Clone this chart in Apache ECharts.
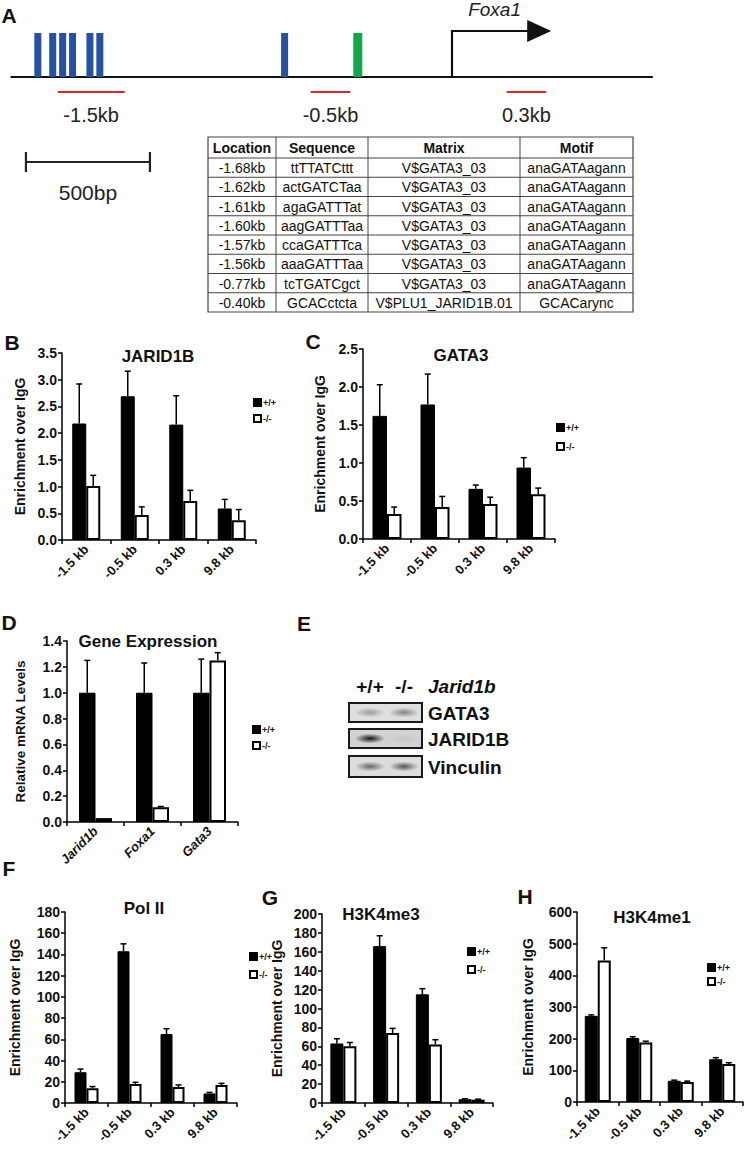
<!DOCTYPE html>
<html><head><meta charset="utf-8">
<script src="https://cdn.jsdelivr.net/npm/echarts@6/dist/echarts.min.js"></script>
<style>html,body{margin:0;padding:0;background:#fff}#c{width:745px;height:1149px}</style>
</head><body><div id="c"></div>
<script>
// ================= DATA =================
// Panel A schematic (positions in kb relative to the Foxa1 TSS)
const geneName = 'Foxa1';
const promoterSpanKb = [-1.78, 0.81];
const gata3SitesKb = [-1.67, -1.61, -1.57, -1.53, -1.46, -1.42, -0.675];
const jarid1bSitesKb = [-0.38];
const tssKb = 0;
const arrowEndKb = 0.40;
const ampliconStartKb = [-1.59, -0.57, 0.22];
const ampliconEndKb = [-1.32, -0.41, 0.38];
const ampliconLabels = ['-1.5kb', '-0.5kb', '0.3kb'];
const scaleBarKb = [-1.718, -1.218];
const scaleBarLabel = '500bp';

// Panel A table
const tableHeader = ['Location', 'Sequence', 'Matrix', 'Motif'];
const tableLocation = ['-1.68kb', '-1.62kb', '-1.61kb', '-1.60kb', '-1.57kb', '-1.56kb', '-0.77kb', '-0.40kb'];
const tableSequence = ['ttTTATCttt', 'actGATCTaa', 'agaGATTTat', 'aagGATTTaa', 'ccaGATTTca', 'aaaGATTTaa', 'tcTGATCgct', 'GCACctcta'];
const tableMatrix = ['V$GATA3_03', 'V$GATA3_03', 'V$GATA3_03', 'V$GATA3_03', 'V$GATA3_03', 'V$GATA3_03', 'V$GATA3_03', 'V$PLU1_JARID1B.01'];
const tableMotif = ['anaGATAagann', 'anaGATAagann', 'anaGATAagann', 'anaGATAagann', 'anaGATAagann', 'anaGATAagann', 'anaGATAagann', 'GCACarync'];

// Bar charts
const siteCategories = ['-1.5 kb', '-0.5 kb', '0.3 kb', '9.8 kb'];
const geneCategories = ['Jarid1b', 'Foxa1', 'Gata3'];
const genotypeNames = ['+/+', '-/-'];

const jaridWT = [2.18, 2.69, 2.16, 0.59];
const jaridWTErr = [0.74, 0.47, 0.54, 0.17];
const jaridKO = [1.01, 0.47, 0.73, 0.37];
const jaridKOErr = [0.20, 0.15, 0.20, 0.20];

const gataWT = [1.62, 1.77, 0.66, 0.94];
const gataWTErr = [0.41, 0.40, 0.05, 0.13];
const gataKO = [0.33, 0.42, 0.46, 0.59];
const gataKOErr = [0.09, 0.14, 0.09, 0.08];

const exprWT = [1.0, 1.0, 1.0];
const exprWTErr = [0.25, 0.23, 0.26];
const exprKO = [0.03, 0.115, 1.25];
const exprKOErr = [0.0, 0.005, 0.06];

const pol2WT = [29, 143, 65, 9];
const pol2WTErr = [3, 7, 5, 1];
const pol2KO = [14, 18, 15, 17];
const pol2KOErr = [1.5, 1.5, 2, 1.5];

const me3WT = [63, 166, 115, 4];
const me3WTErr = [5, 11, 6, 0.5];
const me3KO = [60, 74, 62, 3.5];
const me3KOErr = [4, 5, 5, 0.5];

const me1WT = [272, 202, 67, 135];
const me1WTErr = [3, 4, 2, 5];
const me1KO = [447, 188, 63, 120];
const me1KOErr = [40, 4, 3, 4];

// Western blot
const blotLanes = ['+/+', '-/-'];
const blotGeneLabel = 'Jarid1b';
const blotRows = ['GATA3', 'JARID1B', 'Vinculin'];
const blotBandIntensity = [[0.35, 0.45], [0.95, 0.08], [0.55, 0.6]];

// ================= LAYOUT / STYLE =================
const FONT = '"Liberation Sans", Arial, Helvetica, sans-serif';
const chart = echarts.init(document.getElementById('c'), null, {renderer: 'svg'});

const grids = [], xAxes = [], yAxes = [], series = [], legends = [], graphics = [];

// ---- Panel A schematic grid (x in kb, y in px offsets) ----
grids.push({left: 5.6, top: 0, width: 657.2, height: 200});
xAxes.push({type: 'value', gridIndex: 0, min: -1.8, max: 0.85, show: false});
yAxes.push({type: 'value', gridIndex: 0, min: 0, max: 200, inverse: true, show: false});
const A_BASE_Y = 77, A_SITE_TOP = 33, A_AMP_Y = 92, A_AMP_LABEL_Y = 115;
const A_ARROW_Y = 31, A_SCALE_Y = 162, A_SCALE_LABEL_Y = 192;

series.push({
  type: 'custom', xAxisIndex: 0, yAxisIndex: 0, silent: true, clip: false,
  data: [promoterSpanKb],
  renderItem(p, api) {
    const a = api.coord([api.value(0), A_BASE_Y]), b = api.coord([api.value(1), A_BASE_Y]);
    return {type: 'line', shape: {x1: a[0], y1: a[1], x2: b[0], y2: b[1]}, style: {stroke: '#111', lineWidth: 2.2}};
  }
});
series.push({
  type: 'custom', xAxisIndex: 0, yAxisIndex: 0, silent: true, clip: false,
  data: gata3SitesKb.map(k => [k, 0]).concat(jarid1bSitesKb.map(k => [k, 1])),
  renderItem(p, api) {
    const t = api.coord([api.value(0), A_SITE_TOP]), b = api.coord([api.value(0), A_BASE_Y]);
    const green = api.value(1) === 1;
    const w = green ? 9 : 7;
    return {type: 'rect', shape: {x: t[0] - w / 2, y: t[1], width: w, height: b[1] - t[1]},
      style: {fill: green ? '#10a64a' : '#2450a6'}};
  }
});
series.push({
  type: 'custom', xAxisIndex: 0, yAxisIndex: 0, silent: true, clip: false,
  data: ampliconStartKb.map((s, i) => [s, ampliconEndKb[i], i]),
  renderItem(p, api) {
    const a = api.coord([api.value(0), A_AMP_Y]), b = api.coord([api.value(1), A_AMP_Y]);
    const lab = api.coord([(api.value(0) + api.value(1)) / 2, A_AMP_LABEL_Y]);
    return {type: 'group', children: [
      {type: 'line', shape: {x1: a[0], y1: a[1], x2: b[0], y2: b[1]}, style: {stroke: '#e3242b', lineWidth: 2}},
      {type: 'text', x: lab[0], y: lab[1], style: {text: ampliconLabels[api.value(2)], font: '20px ' + FONT, fill: '#222', textAlign: 'center', textVerticalAlign: 'middle'}}
    ]};
  }
});
series.push({
  type: 'custom', xAxisIndex: 0, yAxisIndex: 0, silent: true, clip: false,
  data: [[tssKb, arrowEndKb]],
  renderItem(p, api) {
    const b = api.coord([api.value(0), A_BASE_Y]), t = api.coord([api.value(0), A_ARROW_Y]);
    const e = api.coord([api.value(1), A_ARROW_Y]);
    const headLen = 24, headHalf = 11;
    return {type: 'group', children: [
      {type: 'polyline', shape: {points: [[b[0], b[1]], [t[0], t[1]], [e[0] - headLen + 2, e[1]]]}, style: {stroke: '#111', lineWidth: 2.2, fill: null}},
      {type: 'polygon', shape: {points: [[e[0] - headLen, e[1] - headHalf], [e[0], e[1]], [e[0] - headLen, e[1] + headHalf]]}, style: {fill: '#111'}},
      {type: 'text', x: (t[0] + e[0]) / 2 - 7, y: 9, style: {text: geneName, font: 'italic 19px ' + FONT, fill: '#222', textAlign: 'center', textVerticalAlign: 'middle'}}
    ]};
  }
});
series.push({
  type: 'custom', xAxisIndex: 0, yAxisIndex: 0, silent: true, clip: false,
  data: [scaleBarKb],
  renderItem(p, api) {
    const a = api.coord([api.value(0), A_SCALE_Y]), b = api.coord([api.value(1), A_SCALE_Y]);
    const lab = api.coord([(api.value(0) + api.value(1)) / 2, A_SCALE_LABEL_Y]);
    const st = {stroke: '#222', lineWidth: 2.2};
    return {type: 'group', children: [
      {type: 'line', shape: {x1: a[0], y1: a[1], x2: b[0], y2: b[1]}, style: st},
      {type: 'line', shape: {x1: a[0], y1: a[1] - 10, x2: a[0], y2: a[1] + 10}, style: st},
      {type: 'line', shape: {x1: b[0], y1: b[1] - 10, x2: b[0], y2: b[1] + 10}, style: st},
      {type: 'text', x: lab[0], y: lab[1], style: {text: scaleBarLabel, font: '21px ' + FONT, fill: '#222', textAlign: 'center', textVerticalAlign: 'middle'}}
    ]};
  }
});

// ---- Table ----
(function () {
  const cols = [208, 276, 368, 520, 633];
  const top = 137, headH = 21, rowH = 19.25;
  const nRows = tableLocation.length;
  const bottom = top + headH + rowH * nRows;
  const st = {stroke: '#444', lineWidth: 1};
  graphics.push({type: 'rect', shape: {x: cols[0], y: top, width: cols[4] - cols[0], height: bottom - top}, style: {fill: '#fff', stroke: '#444', lineWidth: 1.2}});
  for (let c = 1; c < 4; c++) graphics.push({type: 'line', shape: {x1: cols[c], y1: top, x2: cols[c], y2: bottom}, style: st});
  for (let r = 0; r < nRows; r++) {
    const y = top + headH + rowH * r;
    graphics.push({type: 'line', shape: {x1: cols[0], y1: y, x2: cols[4], y2: y}, style: st});
  }
  const colsData = [tableLocation, tableSequence, tableMatrix, tableMotif];
  for (let c = 0; c < 4; c++) {
    const cx = (cols[c] + cols[c + 1]) / 2;
    graphics.push({type: 'text', x: cx, y: top + headH / 2 + 0.5, style: {text: tableHeader[c], font: 'bold 14px ' + FONT, fill: '#111', textAlign: 'center', textVerticalAlign: 'middle'}});
    colsData[c].forEach((t, r) => {
      graphics.push({type: 'text', x: cx, y: top + headH + rowH * (r + 0.5) + 0.5, style: {text: t, font: '14px ' + FONT, fill: '#111', textAlign: 'center', textVerticalAlign: 'middle'}});
    });
  }
})();

// ---- Western blot (panel E) ----
(function () {
  const left = 349, right = 422, laneX = [370, 404];
  const rowTop = [703, 729, 756], rowH = [19, 19, 21];
  const bg = ['#dedede', '#d2d2d2', '#dcdcdc'];
  graphics.push({type: 'text', x: laneX[0], y: 686, style: {text: blotLanes[0], font: 'bold 19px ' + FONT, fill: '#111', textAlign: 'center', textVerticalAlign: 'middle'}});
  graphics.push({type: 'text', x: laneX[1], y: 686, style: {text: blotLanes[1], font: 'bold 19px ' + FONT, fill: '#111', textAlign: 'center', textVerticalAlign: 'middle'}});
  graphics.push({type: 'text', x: 428, y: 686, style: {text: blotGeneLabel, font: 'italic bold 19px ' + FONT, fill: '#111', textAlign: 'left', textVerticalAlign: 'middle'}});
  blotRows.forEach((name, r) => {
    const cy = rowTop[r] + rowH[r] / 2;
    graphics.push({type: 'rect', shape: {x: left, y: rowTop[r], width: right - left, height: rowH[r]}, style: {fill: bg[r], stroke: '#1a1a1a', lineWidth: 2}});
    blotBandIntensity[r].forEach((v, l) => {
      const g = Math.round(200 - 190 * v);
      graphics.push({type: 'ellipse', shape: {cx: laneX[l], cy: cy, rx: 15, ry: 5},
        style: {fill: new echarts.graphic.RadialGradient(0.5, 0.5, 0.5, [
          {offset: 0, color: 'rgba(' + g + ',' + g + ',' + g + ',' + Math.min(1, 0.4 + v) + ')'},
          {offset: 1, color: 'rgba(' + g + ',' + g + ',' + g + ',0)'}])}});
    });
    graphics.push({type: 'text', x: 428, y: cy + 1, style: {text: name, font: 'bold 19px ' + FONT, fill: '#111', textAlign: 'left', textVerticalAlign: 'middle'}});
  });
})();

// ---- Panel letters & titles ----
[['A', 9, 15], ['B', 12, 342], ['C', 313, 341], ['D', 9, 622], ['E', 304, 623], ['F', 9, 868], ['G', 270, 897], ['H', 525, 896]]
  .forEach(([t, x, y]) => graphics.push({type: 'text', x, y, style: {text: t, font: 'bold 21px ' + FONT, fill: '#111', textAlign: 'center', textVerticalAlign: 'middle'}}));

// ---- Bar chart panels ----
function addPanel(cfg) {
  const gi = grids.length;
  grids.push(cfg.grid);
  xAxes.push({
    type: 'category', gridIndex: gi, data: cfg.cats,
    axisLine: {lineStyle: {color: '#000', width: 1.5}},
    axisTick: {show: true, length: 4, lineStyle: {color: '#000', width: 1.5}},
    axisLabel: {rotate: 45, margin: 7, interval: 0, fontSize: 13, fontWeight: 'bold', fontStyle: cfg.italicCats ? 'italic' : 'normal', color: '#111', fontFamily: FONT}
  });
  yAxes.push({
    type: 'value', gridIndex: gi, min: 0, max: cfg.max, interval: cfg.interval,
    splitLine: {show: false},
    axisLine: {show: true, lineStyle: {color: '#000', width: 1.5}},
    axisTick: {show: true, length: 4, lineStyle: {color: '#000', width: 1.5}},
    axisLabel: {formatter: v => v.toFixed(cfg.decimals), fontSize: 14, fontWeight: 'bold', color: '#111', fontFamily: FONT, margin: 5},
    name: cfg.yName, nameLocation: 'middle', nameRotate: 90, nameGap: cfg.nameGap,
    nameTextStyle: {fontSize: cfg.nameSize || 14, fontWeight: 'bold', color: '#111', fontFamily: FONT}
  });
  const w = cfg.barW;
  series.push({type: 'bar', name: genotypeNames[0], xAxisIndex: gi, yAxisIndex: gi, data: cfg.wt, barWidth: w, barGap: '0%',
    itemStyle: {color: '#000', borderColor: '#000', borderWidth: 1}, silent: true, animation: false});
  series.push({type: 'bar', name: genotypeNames[1], xAxisIndex: gi, yAxisIndex: gi, data: cfg.ko, barWidth: w, barGap: '0%',
    itemStyle: {color: '#fff', borderColor: '#000', borderWidth: 2}, silent: true, animation: false});
  [[cfg.wt, cfg.wtErr, -1], [cfg.ko, cfg.koErr, 1]].forEach(([m, e, side]) => {
    series.push({
      type: 'custom', xAxisIndex: gi, yAxisIndex: gi, z: 5, silent: true, animation: false,
      data: m.map((v, i) => [i, v, v + e[i]]),
      renderItem(p, api) {
        if (api.value(2) <= api.value(1)) return null;
        const b = api.coord([api.value(0), api.value(1)]);
        const t = api.coord([api.value(0), api.value(2)]);
        const x = b[0] + side * w / 2;
        const st = {stroke: '#000', lineWidth: 1.5};
        return {type: 'group', children: [
          {type: 'line', shape: {x1: x, y1: b[1], x2: x, y2: t[1]}, style: st},
          {type: 'line', shape: {x1: x - 3, y1: t[1], x2: x + 3, y2: t[1]}, style: st}
        ]};
      }
    });
  });
  legends.push({
    data: genotypeNames, left: cfg.legend[0], top: cfg.legend[1], orient: 'vertical', padding: 0,
    itemWidth: 7, itemHeight: 7, itemGap: cfg.legend[2], icon: 'rect', selectedMode: false,
    textStyle: {fontSize: 9, fontWeight: 'bold', color: '#111', fontFamily: FONT, padding: [0, 0, 0, -3]}
  });
  graphics.push({type: 'text', x: cfg.title[1], y: cfg.title[2], style: {text: cfg.title[0], font: 'bold 17px ' + FONT, fill: '#111', textAlign: 'center', textVerticalAlign: 'middle'}});
}

addPanel({grid: {left: 62, top: 353, width: 194, height: 187}, cats: siteCategories, wt: jaridWT, wtErr: jaridWTErr, ko: jaridKO, koErr: jaridKOErr,
  max: 3.5, interval: 0.5, decimals: 1, barW: 14, yName: 'Enrichment over IgG', nameGap: 35, legend: [253, 398, 7], title: ['JARID1B', 158, 356]});
addPanel({grid: {left: 363, top: 349, width: 192, height: 190}, cats: siteCategories, wt: gataWT, wtErr: gataWTErr, ko: gataKO, koErr: gataKOErr,
  max: 2.5, interval: 0.5, decimals: 1, barW: 14.5, yName: 'Enrichment over IgG', nameGap: 36, legend: [556, 423, 10], title: ['GATA3', 461, 355]});
addPanel({grid: {left: 67, top: 641, width: 171, height: 181}, cats: geneCategories, italicCats: true, wt: exprWT, wtErr: exprWTErr, ko: exprKO, koErr: exprKOErr,
  max: 1.4, interval: 0.2, decimals: 1, barW: 16.5, yName: 'Relative mRNA Levels', nameGap: 40, nameSize: 13.5, legend: [252, 725, 7], title: ['Gene Expression', 148, 641]});
addPanel({grid: {left: 65, top: 912, width: 172, height: 191}, cats: siteCategories, wt: pol2WT, wtErr: pol2WTErr, ko: pol2KO, koErr: pol2KOErr,
  max: 180, interval: 20, decimals: 0, barW: 12, yName: 'Enrichment over IgG', nameGap: 43, legend: [249, 952, 9], title: ['Pol II', 144, 908]});
addPanel({grid: {left: 322, top: 914, width: 171, height: 189}, cats: siteCategories, wt: me3WT, wtErr: me3WTErr, ko: me3KO, koErr: me3KOErr,
  max: 200, interval: 20, decimals: 0, barW: 13, yName: 'Enrichment over IgG', nameGap: 38, legend: [467, 947, 9], title: ['H3K4me3', 381, 914]});
addPanel({grid: {left: 577, top: 912, width: 166, height: 190}, cats: siteCategories, wt: me1WT, wtErr: me1WTErr, ko: me1KO, koErr: me1KOErr,
  max: 600, interval: 100, decimals: 0, barW: 13, yName: 'Enrichment over IgG', nameGap: 42, legend: [707, 963, 5], title: ['H3K4me1', 652, 917]});

chart.setOption({
  animation: false,
  backgroundColor: '#fff',
  textStyle: {fontFamily: FONT},
  grid: grids, xAxis: xAxes, yAxis: yAxes, series: series, legend: legends,
  graphic: {elements: graphics}
});
</script>
</body></html>
